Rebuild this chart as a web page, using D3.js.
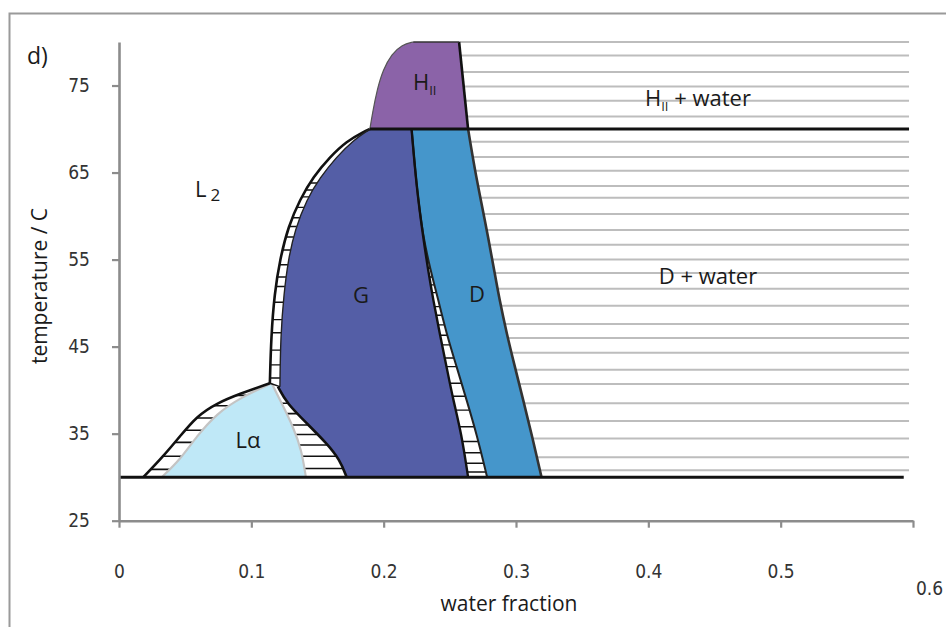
<!DOCTYPE html>
<html>
<head>
<meta charset="utf-8">
<script src="https://d3js.org/d3.v7.min.js"></script>
<style>
  body { margin: 0; background: #fff; }
  text { font-family: "Open Sans", "Noto Sans", sans-serif; fill: #1a1a1a; }
  .tick text { font-family: "Liberation Sans Narrow", "DejaVu Sans Condensed", "Roboto", sans-serif; fill: #333; }
</style>
</head>
<body>
<svg width="946" height="627"></svg>
<script>
// axis ticks
const xTicks = [0, 0.1, 0.2, 0.3, 0.4, 0.5, 0.6];
const yTicks = [25, 35, 45, 55, 65, 75];

// phase boundaries, [water fraction, temperature]
const laInnerLeft  = [[0.0323, 30], [0.0461, 32.0], [0.0587, 34.7], [0.0738, 37.3], [0.0914, 39.1], [0.1153, 40.8]];
const laInnerRight = [[0.1153, 40.8], [0.1229, 38.5], [0.1316, 35.8], [0.1380, 33.1], [0.1412, 30]];
const laOuterLeft  = [[0.0184, 30], [0.0335, 32.4], [0.0461, 34.7], [0.0587, 37.0], [0.0738, 38.5], [0.0914, 39.6], [0.1140, 40.8]];
const gLowerLeft   = [[0.1201, 40.4], [0.1267, 38.5], [0.1418, 36.2], [0.1569, 33.9], [0.1669, 32.0], [0.1720, 30]];
const l2Outer      = [[0.1140, 40.8], [0.1150, 46.2], [0.1175, 51.1], [0.1216, 55.0], [0.1279, 58.8], [0.1367, 61.9], [0.1468, 64.5], [0.1594, 66.8], [0.1720, 68.6], [0.1850, 69.7], [0.1896, 70]];
const gLeft        = [[0.1216, 40.4], [0.1221, 46.2], [0.1246, 51.1], [0.1279, 55.0], [0.1329, 58.4], [0.1418, 61.9], [0.1518, 64.4], [0.1644, 66.8], [0.1770, 68.7], [0.1896, 70]];
const gRight       = [[0.2211, 70], [0.2248, 63.4], [0.2298, 57.6], [0.2336, 53.8], [0.2374, 50.4], [0.2424, 46.5], [0.2475, 42.7], [0.2525, 38.9], [0.2588, 35.0], [0.2638, 30]];
const dLeft        = [[0.2211, 70], [0.2248, 63.4], [0.2298, 57.6], [0.2354, 53.8], [0.2412, 50.4], [0.2475, 46.5], [0.2551, 42.7], [0.2626, 38.9], [0.2702, 35.0], [0.2782, 30]];
const dRight       = [[0.2638, 70], [0.2689, 65.3], [0.2739, 61.5], [0.2789, 57.6], [0.2835, 53.8], [0.2875, 50.4], [0.2930, 46.5], [0.2991, 42.7], [0.3054, 38.9], [0.3117, 35.0], [0.3193, 30]];
const hiiLeft      = [[0.1896, 70], [0.1915, 71.8], [0.1950, 74.5], [0.1995, 76.8], [0.2060, 78.6], [0.2140, 79.7], [0.2223, 80]];
const hiiRight     = [[0.2570, 80], [0.2638, 70]];

// tie line temperatures
const waterTies = [80.0, 78.45, 76.55, 74.9, 73.25, 71.45, 68.55, 66.8, 65.2, 63.45, 62.1, 60.25, 58.4, 56.7, 55.0, 53.45, 51.65, 49.7, 47.6, 46.0, 44.3, 42.35, 40.7, 38.5, 36.45, 34.45, 32.3, 30.8];
const laLeftTies  = [39.4, 38.2, 36.8, 35.4, 34.0, 32.4, 30.9];
const laRightTies = [38.5, 37.3, 36.0, 34.9, 33.7, 32.4, 31.0];
const l2Ties = [41.4, 42.9, 44.6, 46.6, 48.1, 50.1, 51.9, 53.0, 54.4, 56.1, 57.6, 58.8, 59.8, 61.0, 62.2, 63.0, 63.8];
const gdTies = [56.9, 55.9, 55.0, 54.0, 53.0, 52.1, 51.2, 49.6, 48.6, 47.5, 46.3, 45.2, 43.7, 42.7, 40.8, 39.3, 37.7, 35.8, 34.1, 32.8, 31.6, 30.6];

const svg = d3.select("svg");

const x = d3.scaleLinear().domain([0, 0.6]).range([119, 913]);
const y = d3.scaleLinear().domain([25, 80]).range([520.7, 42]);

const line = d3.line().x(d => x(d[0])).y(d => y(d[1])).curve(d3.curveBasis);
const rev = a => a.slice().reverse();
const shape = segs => segs.map((s, i) => i ? "L" + line(s).slice(1) : line(s)).join("") + "Z";

// frame
svg.append("path")
  .attr("d", "M9.5,627V13.5H946")
  .attr("fill", "none").attr("stroke", "#9a9a9a").attr("stroke-width", 2);

// clip regions
const defs = svg.append("defs");
const clips = {
  water: shape([[[0.2570, 80.6]], hiiRight, dRight, [[0.62, 30], [0.62, 80.6]]]),
  laL: shape([laOuterLeft, rev(laInnerLeft)]),
  laR: shape([laInnerRight, rev(gLowerLeft)]),
  l2: shape([l2Outer, rev(gLeft)]),
  gd: shape([gRight, rev(dLeft)])
};
Object.entries(clips).forEach(([k, d]) => {
  defs.append("clipPath").attr("id", "clip-" + k).append("path").attr("d", d);
});

function ties(temps, clip, color, w, x1) {
  svg.append("g").attr("clip-path", `url(#clip-${clip})`)
    .selectAll("line").data(temps).enter().append("line")
    .attr("x1", x(0)).attr("x2", x(x1))
    .attr("y1", d => y(d)).attr("y2", d => y(d))
    .attr("stroke", color).attr("stroke-width", w);
}

// grey tie lines in the water region
ties(waterTies, "water", "#bdbdbd", 2, 0.597);

// phase fills
svg.append("path").attr("d", shape([laInnerLeft, laInnerRight])).attr("fill", "#bfe8f7");
svg.append("path").attr("d", shape([rev(gLeft), gLowerLeft, rev(gRight)])).attr("fill", "#545ea6");
svg.append("path").attr("d", shape([dLeft, rev(dRight)])).attr("fill", "#4596cb");
svg.append("path").attr("d", shape([hiiLeft, hiiRight])).attr("fill", "#8b63a8");

// hatching in two-phase bands
ties(laLeftTies, "laL", "#111", 1.6, 0.6);
ties(laRightTies, "laR", "#111", 1.6, 0.6);
ties(l2Ties, "l2", "#111", 1.4, 0.6);
ties(gdTies, "gd", "#111", 1.4, 0.6);

// boundaries
const strokes = [
  [laInnerLeft, "#c4c4c4", 2.2],
  [laInnerRight, "#c4c4c4", 2.2],
  [laOuterLeft, "#111", 2.6],
  [gLowerLeft, "#111", 2.6],
  [l2Outer, "#111", 2.6],
  [gLeft, "#222", 1.4],
  [dLeft, "#222", 2],
  [gRight, "#111", 2.4],
  [dRight, "#333", 2.6],
  [hiiLeft, "#555", 1.2],
  [hiiRight, "#111", 2.6]
];
strokes.forEach(([pts, c, w]) => {
  svg.append("path").attr("d", line(pts)).attr("fill", "none")
    .attr("stroke", c).attr("stroke-width", w).attr("stroke-linejoin", "round");
});
// HII top edge
svg.append("line")
  .attr("x1", x(hiiLeft[hiiLeft.length - 1][0])).attr("x2", x(hiiRight[0][0]))
  .attr("y1", y(80)).attr("y2", y(80))
  .attr("stroke", "#333").attr("stroke-width", 1.6);
// L2 / La / G junction
svg.append("line")
  .attr("x1", x(l2Outer[0][0])).attr("x2", x(gLeft[0][0]))
  .attr("y1", y(l2Outer[0][1])).attr("y2", y(gLeft[0][1]))
  .attr("stroke", "#111").attr("stroke-width", 1.5);

// thick horizontal boundaries
svg.append("line").attr("x1", x(0)).attr("x2", x(0.593)).attr("y1", y(30)).attr("y2", y(30))
  .attr("stroke", "#111").attr("stroke-width", 3);
svg.append("line").attr("x1", x(0.1896)).attr("x2", x(0.597)).attr("y1", y(70)).attr("y2", y(70))
  .attr("stroke", "#111").attr("stroke-width", 3);

// axes
const yAxis = svg.append("g")
  .attr("transform", `translate(${x(0)},0)`)
  .call(d3.axisLeft(y).tickValues(yTicks).tickSize(7).tickSizeOuter(0).tickPadding(22).tickFormat(d3.format("d")));

const xAxis = svg.append("g")
  .attr("transform", `translate(0,${y(25)})`)
  .call(d3.axisBottom(x).tickValues(xTicks).tickSize(7).tickSizeOuter(0).tickPadding(37)
    .tickFormat(d => d === 0 ? "0" : d3.format(".1f")(d)));

[yAxis, xAxis].forEach(a => {
  a.select(".domain").attr("stroke", "#8c8c8c").attr("stroke-width", 2.6);
  a.selectAll(".tick line").attr("stroke", "#8c8c8c").attr("stroke-width", 2.2);
  a.selectAll(".tick text").attr("font-size", 19);
});
// the 0.6 label sits lower and to the right
xAxis.selectAll(".tick text").filter(d => d === 0.6).attr("dx", 16).attr("dy", "1.6em");

// labels
svg.append("text").attr("x", 27).attr("y", 64).attr("font-size", 23).text("d)");

const l2 = svg.append("text").attr("x", 195).attr("y", 197).attr("font-size", 22);
l2.append("tspan").text("L");
l2.append("tspan").attr("dx", 4).attr("dy", 4).attr("font-size", 17).text("2");

svg.append("text").attr("x", 248).attr("y", 448).attr("text-anchor", "middle").attr("font-size", 22).text("Lα");
svg.append("text").attr("x", 361).attr("y", 303).attr("text-anchor", "middle").attr("font-size", 22).text("G");
svg.append("text").attr("x", 477).attr("y", 302).attr("text-anchor", "middle").attr("font-size", 22).text("D");
svg.append("text").attr("x", 708).attr("y", 284).attr("text-anchor", "middle").attr("font-size", 22).text("D + water");

const hw = svg.append("text").attr("x", 645).attr("y", 106).attr("font-size", 22);
hw.append("tspan").text("H");
hw.append("tspan").attr("dy", 5).attr("font-size", 13).text("II");
hw.append("tspan").attr("dy", -5).text(" + water");

const hii = svg.append("text").attr("x", 413).attr("y", 90).attr("font-size", 22);
hii.append("tspan").text("H");
hii.append("tspan").attr("dy", 5).attr("font-size", 13).text("II");

svg.append("text")
  .attr("transform", "translate(47,286) rotate(-90)")
  .attr("text-anchor", "middle").attr("font-size", 21)
  .text("temperature / C");

svg.append("text")
  .attr("x", 509).attr("y", 611)
  .attr("text-anchor", "middle").attr("font-size", 21)
  .text("water fraction");
</script>
</body>
</html>
